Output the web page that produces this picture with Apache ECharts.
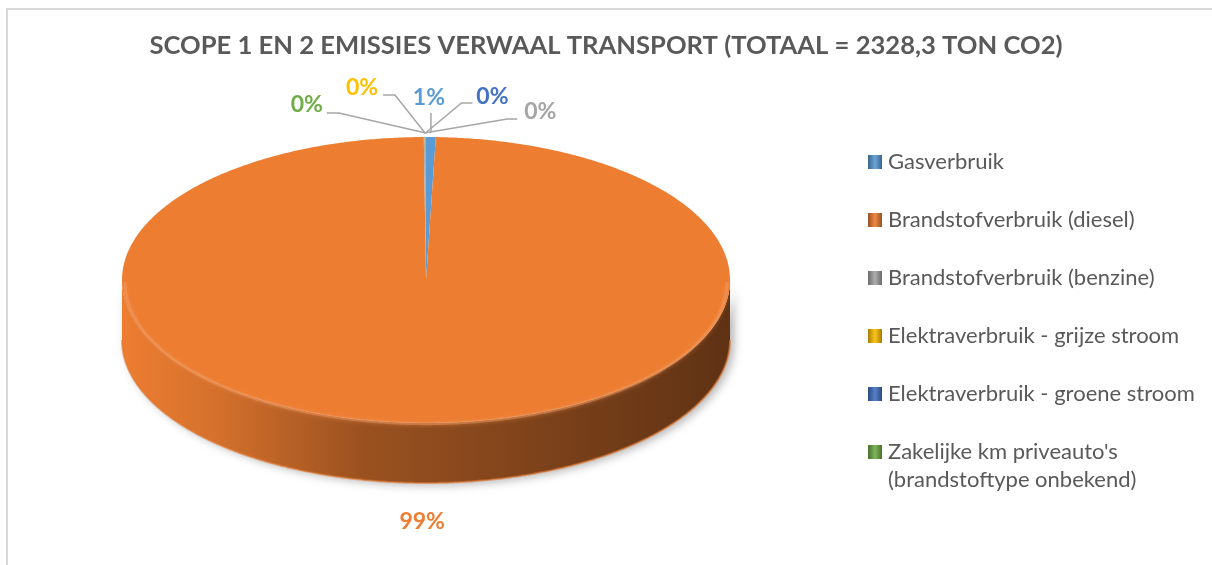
<!DOCTYPE html>
<html><head><meta charset="utf-8">
<script src="https://cdn.jsdelivr.net/npm/echarts@6/dist/echarts.min.js"></script>
<style>html,body{margin:0;padding:0;background:#fff}#c{width:1212px;height:565px}</style>
</head><body><div id="c"></div>
<script>
const titleText = 'SCOPE 1 EN 2 EMISSIES VERWAAL TRANSPORT (TOTAAL = 2328,3 TON CO2)';
const categories = ['Gasverbruik', 'Brandstofverbruik (diesel)', 'Brandstofverbruik (benzine)',
  'Elektraverbruik - grijze stroom', 'Elektraverbruik - groene stroom', "Zakelijke km priveauto's (brandstoftype onbekend)"];
const legendLines = [["Gasverbruik"], ["Brandstofverbruik (diesel)"], ["Brandstofverbruik (benzine)"],
  ["Elektraverbruik - grijze stroom"], ["Elektraverbruik - groene stroom"], ["Zakelijke km priveauto's", "(brandstoftype onbekend)"]];
const values = [12.0, 2313.6, 1.2, 0.6, 0.5, 0.4];

// styling
const colors = ['#5B9BD5', '#ED7D31', '#A5A5A5', '#FFC000', '#4472C4', '#70AD47'];
const labelColors = ['#5B9BD5', '#ED7D31', '#A5A5A5', '#FFC000', '#4472C4', '#70AD47'];
// label placement in pixels relative to the slice anchor
const labelLayout = [
  { label: [-2, -35], line: [[0, -20]] },
  { label: [0, 39], line: null, front: true },
  { label: [116, -21], line: [[83, -14], [93, -14]] },
  { label: [-63, -45], line: [[-30, -38], [-42, -38]] },
  { label: [67, -36], line: [[36, -30], [47, -30]] },
  { label: [-119, -28], line: [[-87, -20], [-99, -20]] }
];
const DEPTH = 0.42;
const FONT = 'Lato, "Open Sans", sans-serif';
const LEG_FONT = 22;

const total = values.reduce((a, b) => a + b, 0);
let cum = 0;
const spans = values.map(v => { const a0 = cum / total * 360; cum += v; return [a0, cum / total * 360]; });

function mix(hex, t, target) {
  const n = parseInt(hex.slice(1), 16);
  const r = (n >> 16) & 255, g = (n >> 8) & 255, b = n & 255;
  const m = (c) => Math.round(c + (target - c) * t);
  return 'rgb(' + m(r) + ',' + m(g) + ',' + m(b) + ')';
}
function pt(api, a, r, dz) {
  const t = (90 - a) * Math.PI / 180;
  return api.coord([r * Math.cos(t), r * Math.sin(t) - (dz || 0)]);
}
function arc(api, a0, a1, r, dz) {
  const n = Math.max(2, Math.ceil((a1 - a0) / 0.5));
  const out = [];
  for (let k = 0; k <= n; k++) out.push(pt(api, a0 + (a1 - a0) * k / n, r, dz));
  return out;
}

function makeRender(i) {
  return function (params, api) {
    const a0 = api.value(2), a1 = api.value(3);
    const color = colors[i];
    const children = [];
    const f0 = Math.max(a0, 90), f1 = Math.min(a1, 270);
    if (f1 > f0) {
      const top = arc(api, f0, f1, 1, 0);
      const bot = arc(api, f0, f1, 1, DEPTH).reverse();
      children.push({
        type: 'polygon', shape: { points: top.concat(bot) },
        style: {
          fill: { type: 'linear', x: 0, y: 0, x2: 1, y2: 0, colorStops: [
            { offset: 0, color: mix(color, 0.0, 0) },
            { offset: 0.15, color: mix(color, 0.1, 0) },
            { offset: 0.4, color: mix(color, 0.35, 0) },
            { offset: 0.75, color: mix(color, 0.5, 0) },
            { offset: 1, color: mix(color, 0.6, 0) }
          ] },
          shadowColor: 'rgba(0,0,0,0.3)', shadowBlur: 10, shadowOffsetX: 4, shadowOffsetY: 2
        }
      });
      children.push({
        type: 'polyline', shape: { points: arc(api, f0, f1, 1, DEPTH) },
        style: { stroke: mix(color, 0.05, 0), lineWidth: 2, fill: null, opacity: 0.6 }
      });
    }
    if (a1 > a0) {
      const c = api.coord([0, 0]);
      children.push({
        type: 'polygon', shape: { points: [c].concat(arc(api, a0, a1, 1, 0)) },
        style: { fill: color }
      });
      if (f1 > f0) {
        children.push({
          type: 'polyline', shape: { points: arc(api, f0, f1, 0.99, 0.015) },
          style: { stroke: mix(color, 0.25, 255), lineWidth: 3, fill: null, opacity: 0.45, shadowBlur: 4, shadowColor: mix(color, 0.2, 255) }
        });
      }
    }
    // label
    const lay = labelLayout[i];
    const mid = (a0 + a1) / 2;
    let anchor;
    if (lay.front) {
      anchor = pt(api, mid, 1, DEPTH);
    } else {
      anchor = pt(api, mid, 1, 0);
      anchor = [anchor[0], anchor[1] - 4];
    }
    if (lay.line) {
      const pts = [anchor].concat(lay.line.map(p => [anchor[0] + p[0], anchor[1] + p[1]]));
      children.push({ type: 'polyline', shape: { points: pts }, style: { stroke: '#A6A6A6', lineWidth: 1.5, fill: null } });
    }
    children.push({
      type: 'text',
      style: {
        x: anchor[0] + lay.label[0], y: anchor[1] + lay.label[1],
        text: Math.round(values[i] / total * 100) + '%',
        fill: labelColors[i], font: 'bold 23px ' + FONT,
        align: 'center', verticalAlign: 'middle'
      }
    });
    return { type: 'group', children: children };
  };
}

function iconFill(c) {
  return { type: 'linear', x: 0, y: 0, x2: 1, y2: 0, colorStops: [
    { offset: 0, color: mix(c, 0.35, 0) }, { offset: 0.5, color: mix(c, 0.1, 255) }, { offset: 1, color: mix(c, 0.35, 0) }
  ] };
}

const chart = echarts.init(document.getElementById('c'), null, { renderer: 'canvas' });
chart.setOption({
  backgroundColor: '#fff',
  animation: false,
  title: {
    text: titleText, left: 'center', top: 33, padding: 0,
    textStyle: { fontFamily: FONT, fontWeight: 'bold', fontSize: 25.6, color: '#595959' }
  },
  graphic: [{
    type: 'rect', silent: true, z: -10,
    shape: { x: 7, y: 9, width: 1300, height: 700 },
    style: { fill: null, stroke: '#D9D9D9', lineWidth: 2 }
  }, {
    type: 'text', silent: true, left: 888, top: 469,
    style: { text: legendLines[5][1], font: LEG_FONT + 'px ' + FONT, fill: '#595959' }
  }],
  legend: {
    orient: 'vertical', left: 868, top: 147, padding: 0,
    itemWidth: 14, itemHeight: 14, itemGap: 28, icon: 'rect',
    textStyle: { fontFamily: FONT, fontSize: LEG_FONT, color: '#595959', lineHeight: 30, padding: [0, 0, 0, 1] },
    data: categories.map((c, i) => ({ name: c, itemStyle: { color: iconFill(colors[i]) } })),
    formatter: name => legendLines[categories.indexOf(name)][0]
  },
  grid: { left: 122, top: 137, width: 608, height: 346 },
  xAxis: { type: 'value', min: -1, max: 1, show: false },
  yAxis: { type: 'value', min: -1 - DEPTH, max: 1, show: false },
  series: categories.map((name, i) => ({
    type: 'custom', name: name,
    coordinateSystem: 'cartesian2d',
    itemStyle: { color: colors[i] },
    encode: { x: 0, y: 1 },
    renderItem: makeRender(i),
    data: [[0, 0, spans[i][0], spans[i][1]]]
  }))
});
</script>
</body></html>
